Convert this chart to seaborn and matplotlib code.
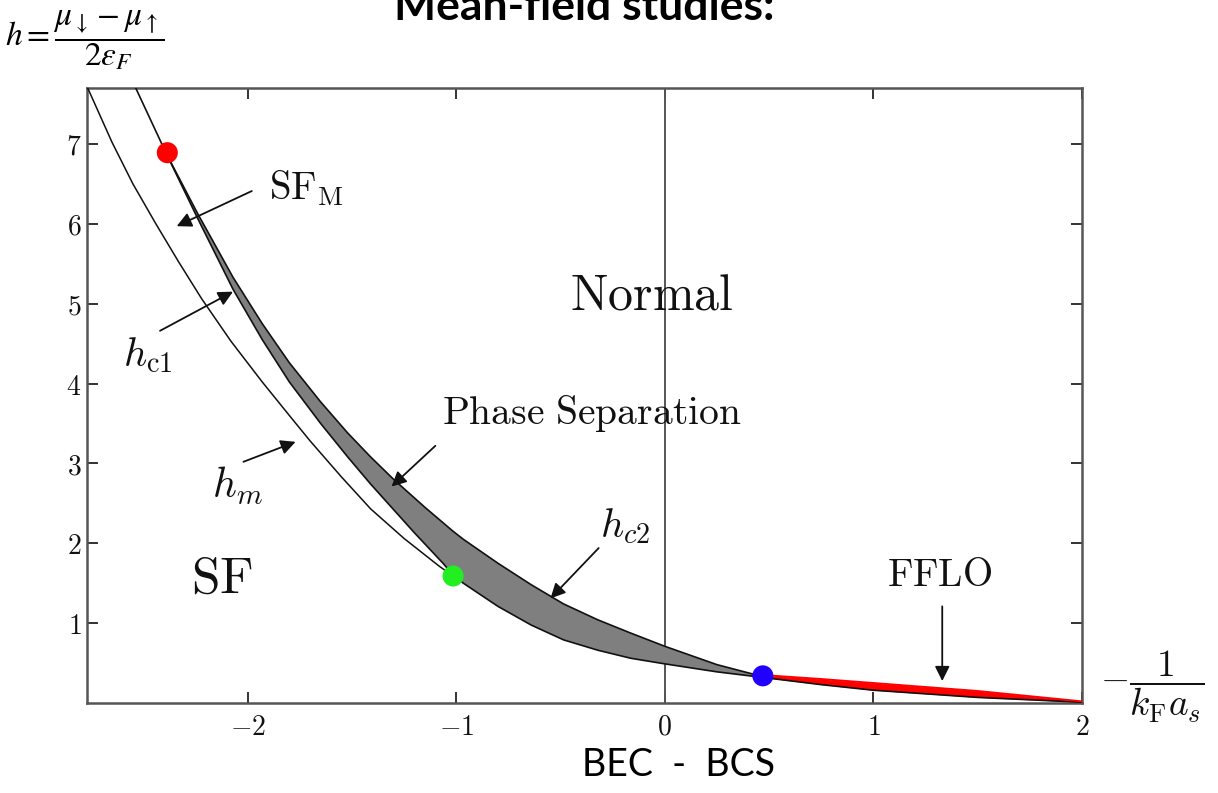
import matplotlib
matplotlib.use("Agg")
import matplotlib.pyplot as plt
import seaborn as sns
import pandas as pd

# ---------------- data ----------------
hm_x = [-2.77, -2.65, -2.55, -2.44, -2.33, -2.22, -2.08, -1.93, -1.80, -1.70, -1.55, -1.41,
        -1.25, -1.08, -1.015]
hm_y = [7.72, 7.02, 6.50, 6.00, 5.52, 5.06, 4.53, 4.02, 3.60, 3.28, 2.83, 2.43,
        2.06, 1.71, 1.59]

hc1_x = [-2.54, -2.39, -2.24, -2.07, -1.93, -1.80, -1.65, -1.52, -1.41, -1.20, -1.06, -1.015,
         -0.966, -0.80, -0.64, -0.485, -0.32, -0.163, 0.0, 0.25, 0.47, 0.75, 1.0, 1.5, 2.0]
hc1_y = [7.72, 6.88, 6.07, 5.18, 4.55, 4.02, 3.50, 3.08, 2.74, 2.13, 1.74, 1.60,
         1.50, 1.21, 0.975, 0.79, 0.66, 0.56, 0.49, 0.39, 0.32, 0.23, 0.16, 0.07, 0.01]

hc2_x = [-2.39, -2.24, -2.07, -1.93, -1.80, -1.65, -1.52, -1.41, -1.30, -1.15, -1.015, -0.966,
         -0.80, -0.64, -0.485, -0.32, -0.163, 0.0, 0.25, 0.47]
hc2_y = [6.88, 6.13, 5.33, 4.75, 4.26, 3.77, 3.38, 3.08, 2.80, 2.45, 2.15, 2.05,
         1.75, 1.48, 1.24, 1.04, 0.875, 0.71, 0.48, 0.33]

fflo_x = [0.47, 0.75, 1.0, 1.5, 2.0]
fflo_lo = [0.32, 0.23, 0.16, 0.07, 0.01]
fflo_hi = [0.35, 0.30, 0.25, 0.15, 0.02]

dot_x = [-2.385, -1.015, 0.47]
dot_y = [6.89, 1.59, 0.34]
dot_names = ["tricritical", "bec", "lifshitz"]
dot_colors = ["#ff0000", "#22ee22", "#2200ff"]

x_ticks = [-2, -1, 0, 1, 2]
y_ticks = [1, 2, 3, 4, 5, 6, 7]

labels = ["SF_M", "h_c1", "h_m", "Phase Separation", "h_c2", "Normal", "SF", "FFLO"]
label_x = [-1.716, -2.48, -2.05, -0.351, -0.19, -0.0625, -2.125, 1.317]
label_y = [6.44, 4.35, 2.72, 3.62, 2.21, 5.10, 1.56, 1.60]

arrow_start_x = [-1.98, -2.42, -2.02, -1.10, -0.317, 1.33]
arrow_start_y = [6.41, 4.66, 3.02, 3.22, 1.94, 1.21]
arrow_tip_x = [-2.34, -2.07, -1.77, -1.31, -0.548, 1.33]
arrow_tip_y = [5.97, 5.15, 3.27, 2.71, 1.31, 0.275]

# ---------------- styling ----------------
sns.set_style("white")
plt.rcParams["mathtext.fontset"] = "cm"
plt.rcParams["font.family"] = ["DejaVu Sans"]

fig = plt.figure(figsize=(12.18, 7.93), dpi=100)
ax = fig.add_axes([87 / 1218, 1 - 703 / 793, 995 / 1218, 615 / 793])

ink = "#111111"
frame = "#555555"

# band (phase separation): polygon between hc1 (lower) and hc2 (upper)
i0, i1 = hc1_x.index(-2.39), hc1_x.index(0.47)
poly_x = hc1_x[i0:i1 + 1] + hc2_x[::-1]
poly_y = hc1_y[i0:i1 + 1] + hc2_y[::-1]
ax.fill(poly_x, poly_y, color="#7f7f7f", lw=0, zorder=2)
# FFLO red sliver
ax.fill_between(fflo_x, fflo_lo, fflo_hi, color="#ff0000", lw=0, zorder=3)

df_hm = pd.DataFrame({"x": hm_x, "y": hm_y})
df_hc1 = pd.DataFrame({"x": hc1_x, "y": hc1_y})
df_hc2 = pd.DataFrame({"x": hc2_x, "y": hc2_y})
df_ff = pd.DataFrame({"x": fflo_x, "y": fflo_hi})
sns.lineplot(data=df_hm, x="x", y="y", ax=ax, color=ink, lw=1.1, sort=False, zorder=4)
sns.lineplot(data=df_hc1, x="x", y="y", ax=ax, color=ink, lw=1.2, sort=False, zorder=4)
sns.lineplot(data=df_hc2, x="x", y="y", ax=ax, color=ink, lw=1.2, sort=False, zorder=4)
sns.lineplot(data=df_ff, x="x", y="y", ax=ax, color="#ff0000", lw=1.4, sort=False, zorder=4)

ax.axvline(0, color=frame, lw=1.4, zorder=1)

df_dots = pd.DataFrame({"x": dot_x, "y": dot_y, "name": dot_names})
sns.scatterplot(data=df_dots, x="x", y="y", hue="name", palette=dict(zip(dot_names, dot_colors)),
                s=230, edgecolor="none", legend=False, ax=ax, zorder=6)

# labels
math_labels = {
    "SF_M": r"$\mathrm{SF}_{\mathrm{M}}$",
    "h_c1": r"$h_{\mathrm{c}1}$",
    "h_m": r"$h_m$",
    "h_c2": r"$h_{c2}$",
}
sizes = [28, 29, 30, 28.5, 29, 36, 37, 28]
for txt, lx, ly, fs in zip(labels, label_x, label_y, sizes):
    s = math_labels.get(txt, r"$\mathrm{" + txt.replace(" ", r"\ ") + "}$")
    ax.text(lx, ly, s, fontsize=fs, ha="center", va="center", color=ink, zorder=7)

for sx, sy, tx, ty in zip(arrow_start_x, arrow_start_y, arrow_tip_x, arrow_tip_y):
    ax.annotate("", xy=(tx, ty), xytext=(sx, sy),
                arrowprops=dict(arrowstyle="-|>", color=ink, lw=1.3, mutation_scale=22,
                                shrinkA=0, shrinkB=0), zorder=7)

ax.set_xlim(-2.77, 2.0)
ax.set_ylim(0, 7.7)
ax.set_xticks(x_ticks)
ax.set_xticklabels([r"$%d$" % v for v in x_ticks])
ax.set_yticks(y_ticks)
ax.set_yticklabels([r"$%d$" % v for v in y_ticks])
ax.tick_params(direction="in", length=8, width=1.2, colors=ink, labelsize=20,
               top=True, right=True, bottom=True, left=True)
ax.tick_params(axis="x", pad=7)
ax.tick_params(axis="y", pad=4)
ax.set_xlabel("")
ax.set_ylabel("")
for sp in ax.spines.values():
    sp.set_visible(True)
    sp.set_color(frame)
    sp.set_linewidth(1.8)

# axis "labels" as in the slide
fig.text(1100 / 1218, 1 - 687 / 793, r"$-\dfrac{1}{k_{\mathrm{F}}a_s}$", fontsize=27,
         ha="left", va="center", color=ink)
fig.text(85 / 1218, 1 - 40 / 793, r"$h=\dfrac{\mu_{\downarrow}-\mu_{\uparrow}}{2\varepsilon_{F}}$",
         fontsize=24, ha="center", va="center", color="black", math_fontfamily="stix")
fig.text(584 / 1218, 1 - 20 / 793, "Mean-field studies:", fontsize=32, fontweight="bold",
         family=["Lato", "DejaVu Sans"], ha="center", va="baseline", color="black")
fig.text(678 / 1218, 1 - 765 / 793, "BEC  -  BCS", fontsize=27,
         family=["Lato", "DejaVu Sans"], ha="center", va="center", color="black")

fig.savefig("out.png", dpi=100)
